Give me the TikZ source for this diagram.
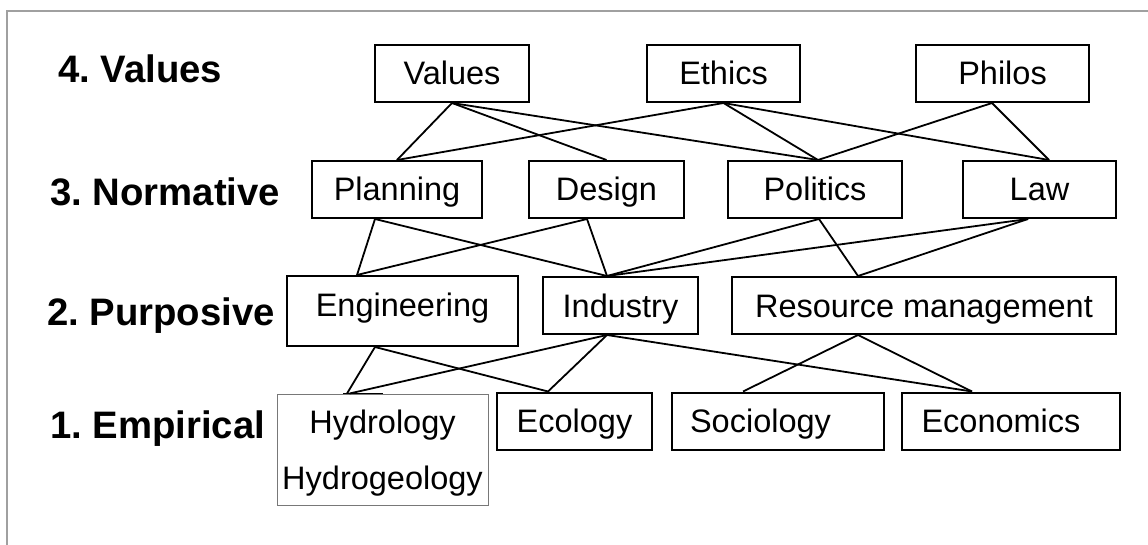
\documentclass[tikz,border=0pt]{standalone}
\usepackage{fontspec}
\setmainfont{Liberation Sans}
\usepackage{tikz}
\definecolor{framegray}{RGB}{160,160,160}
\definecolor{hydrogray}{RGB}{120,120,120}

\begin{document}
\begin{tikzpicture}[x=1pt, y=-1pt,
    level/.style={anchor=base west, inner sep=0pt, font=\fontsize{38.3}{40}\selectfont\bfseries\frenchspacing},
    field/.style={shape=rectangle, draw=black, line width=2pt, inner sep=0pt, minimum height=57pt, text height=29.7pt, text depth=6.7pt, font=\fontsize{32.5}{36}\selectfont},
    wire/.style={line width=1.8pt}]
    % Frame and level labels:
    \useasboundingbox (0,0) rectangle (1148,545);
    \draw[framegray, line width=1.5pt] (7,545) -- (7,11) -- (1148,11);
    \node[level](L4) at (58,83){4. Values};
    \node[level](L3) at (50,206){3. Normative};
    \node[level](L2) at (47,325){2. Purposive};
    \node[level](L1) at (50,438){1. Empirical};
    % Boxes:
    \node[field, minimum width=154pt](V1) at (452,73.5){Values};
    \node[field, minimum width=153pt](V2) at (723.5,73.5){Ethics};
    \node[field, minimum width=173pt](V3) at (1002.5,73.5){Philos};
    \node[field, minimum width=170pt](N1) at (397,189.5){Planning};
    \node[field, minimum width=155pt](N2) at (606.5,189.5){Design};
    \node[field, minimum width=174pt](N3) at (815,189.5){Politics};
    \node[field, minimum width=153pt](N4) at (1039.5,189.5){Law};
    \node[field, minimum width=231pt, minimum height=0pt, text height=40.8pt, text depth=29.2pt](P1) at (402.5,311){Engineering};
    \node[field, minimum width=155pt](P2) at (620.5,305.5){Industry};
    \node[field, minimum width=384pt](P3) at (924,305.5){Resource management};
    \node[field, draw=hydrogray, line width=1pt, minimum width=211pt, minimum height=111pt, text height={}, text depth={}, align=center, font=\fontsize{32.5}{56}\selectfont](E1) at (382.5,449.5){\rule{0pt}{31.3pt}Hydrology\\Hydrogeology};
    \node[field, minimum width=155pt](E2) at (574.5,421){Ecology};
    \node[field, minimum width=212pt](E3) at (778,421){Sociology\hspace*{35pt}};
    \node[field, minimum width=218pt](E4) at (1011,421){Economics\hspace*{20pt}};
    % Wires between levels 4 and 3:
    \draw[wire] (V1.south) -- (N1.north);
    \draw[wire] (V1.south) -- (N2.north);
    \draw[wire] (V1.south) -- ([xshift=3pt]N3.north);
    \draw[wire] (V2.south) -- (N1.north);
    \draw[wire] (V2.south) -- ([xshift=3pt]N3.north);
    \draw[wire] (V2.south) -- ([xshift=9.5pt]N4.north);
    \draw[wire] ([xshift=-10.5pt]V3.south) -- ([xshift=3pt]N3.north);
    \draw[wire] ([xshift=-10.5pt]V3.south) -- ([xshift=9.5pt]N4.north);
    % Wires between levels 3 and 2:
    \draw[wire] ([xshift=-22pt]N1.south) -- ([xshift=-45.5pt]P1.north);
    \draw[wire] ([xshift=-22pt]N1.south) -- ([xshift=-13.5pt]P2.north);
    \draw[wire] ([xshift=-19.5pt]N2.south) -- ([xshift=-45.5pt]P1.north);
    \draw[wire] ([xshift=-19.5pt]N2.south) -- ([xshift=-13.5pt]P2.north);
    \draw[wire] ([xshift=4pt]N3.south) -- ([xshift=-13.5pt]P2.north);
    \draw[wire] ([xshift=4pt]N3.south) -- ([xshift=-66pt]P3.north);
    \draw[wire] ([xshift=-11.5pt]N4.south) -- ([xshift=-13.5pt]P2.north);
    \draw[wire] ([xshift=-11.5pt]N4.south) -- ([xshift=-66pt]P3.north);
    % Wires between levels 2 and 1:
    \draw[wire] ([xshift=-39.5pt]E1.north) -- ([xshift=0.5pt]E1.north);
    \draw[wire] ([xshift=-27.5pt]P1.south) -- ([xshift=-35.5pt]E1.north);
    \draw[wire] ([xshift=-27.5pt]P1.south) -- ([xshift=-26.5pt]E2.north);
    \draw[wire] ([xshift=-13.5pt]P2.south) -- ([xshift=-33pt]E1.north);
    \draw[wire] ([xshift=-13.5pt]P2.south) -- ([xshift=-26.5pt]E2.north);
    \draw[wire] ([xshift=-13.5pt]P2.south) -- ([xshift=-39pt]E4.north);
    \draw[wire] ([xshift=-66pt]P3.south) -- ([xshift=-35pt]E3.north);
    \draw[wire] ([xshift=-66pt]P3.south) -- ([xshift=-39pt]E4.north);
\end{tikzpicture}
\end{document}
